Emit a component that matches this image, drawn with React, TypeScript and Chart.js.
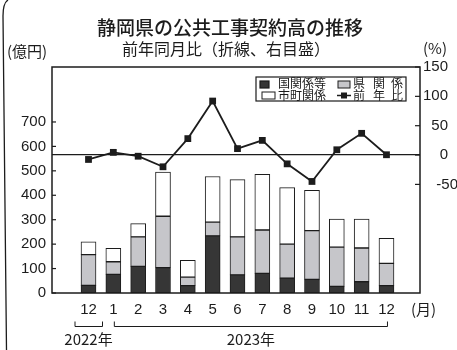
import React, { useEffect, useRef } from "react";
import { Chart, registerables } from "chart.js";

Chart.register(...registerables);

const xLabels = ["12", "1", "2", "3", "4", "5", "6", "7", "8", "9", "10", "11", "12"];
const kuni = [31, 76, 109, 104, 30, 234, 74, 80, 61, 56, 27, 46, 30];
const ken = [126, 52, 121, 210, 35, 56, 156, 178, 139, 199, 161, 138, 91];
const shicho = [52, 55, 54, 181, 69, 187, 234, 228, 231, 165, 115, 119, 103];
const yoy = [-7.5, 4.6, -2, -20, 28, 92, 11, 25, -15, -45, 9, 37, 0.5];
const leftTicks = [0, 100, 200, 300, 400, 500, 600, 700];
const rightTicks = [-50, 0, 50, 100, 150];

const TITLE = "静岡県の公共工事契約高の推移";
const SUBTITLE = "前年同月比（折線、右目盛）";
const LEFT_UNIT = "(億円)";
const RIGHT_UNIT = "(%)";
const MONTH_UNIT = "(月)";
const LEGEND_KUNI = "国関係等";
const LEGEND_KEN = ["県", "関", "係"];
const LEGEND_SHICHO = "市町関係";
const LEGEND_YOY = ["前", "年", "比"];
const YEAR_2022 = "2022年";
const YEAR_2023 = "2023年";

const JP = '"Noto Sans CJK JP"';
const NUM = '"Liberation Sans", Arial, sans-serif';
const INK = "#1c1c1c";
const DARK = "#363636";
const GRAY = "#c6c6ca";

const decor = {
  id: "decor",
  beforeDraw(chart: any) {
    const c = chart.ctx;
    c.save();
    c.fillStyle = "#ffffff";
    c.fillRect(0, 0, chart.width, chart.height);
    c.restore();
  },
  afterDraw(chart: any) {
    const c = chart.ctx;
    const { left, right, top, bottom } = chart.chartArea;
    const ys = chart.scales.y;
    const y2 = chart.scales.y2;
    const xs = chart.scales.x;
    c.save();
    c.strokeStyle = INK;
    c.fillStyle = INK;
    // frame line at left edge
    c.lineWidth = 1.3;
    c.beginPath();
    c.moveTo(8, 0);
    c.quadraticCurveTo(3, 3, 3, 16);
    c.lineTo(6.5, 350);
    c.stroke();
    // plot border
    c.lineWidth = 1.5;
    c.strokeRect(left, top, right - left, bottom - top);
    // inward ticks
    c.lineWidth = 1.2;
    leftTicks.forEach((v) => {
      const y = ys.getPixelForValue(v);
      c.beginPath();
      c.moveTo(left, y);
      c.lineTo(left + 4, y);
      c.stroke();
    });
    rightTicks.forEach((v) => {
      const y = y2.getPixelForValue(v);
      c.beginPath();
      c.moveTo(right - 5, y);
      c.lineTo(right, y);
      c.stroke();
    });
    // right axis labels
    c.font = `15px ${NUM}`;
    c.textBaseline = "middle";
    c.textAlign = "right";
    rightTicks.forEach((v) => {
      const y = y2.getPixelForValue(v);
      c.fillText(String(v), v < 0 ? 458 : 448, y);
    });
    // titles
    c.textAlign = "center";
    c.font = `500 19px ${JP}`;
    c.fillText(TITLE, 230, 28);
    c.font = `16px ${JP}`;
    c.fillText(SUBTITLE, 226, 49);
    c.font = `15px ${JP}`;
    c.textAlign = "left";
    c.fillText(LEFT_UNIT, 7, 51);
    c.fillText(RIGHT_UNIT, 423, 48);
    c.fillText(MONTH_UNIT, 411, 309);
    // legend
    c.lineWidth = 1.2;
    c.strokeRect(256, 77, 150, 24);
    c.font = `12px ${JP}`;
    c.textAlign = "left";
    c.fillStyle = DARK;
    c.fillRect(260, 81, 9, 7);
    c.strokeRect(260, 81, 9, 7);
    c.fillStyle = INK;
    c.fillText(LEGEND_KUNI, 278, 83.5);
    c.fillStyle = GRAY;
    c.fillRect(338, 81, 12, 7);
    c.lineWidth = 1;
    c.strokeRect(338, 81, 12, 7);
    c.fillStyle = "#fff";
    c.fillRect(262, 92, 13, 7);
    c.strokeRect(262, 92, 13, 7);
    c.lineWidth = 1.5;
    c.beginPath();
    c.moveTo(337, 95.5);
    c.lineTo(351, 95.5);
    c.stroke();
    c.fillStyle = INK;
    c.fillRect(341, 92.5, 6, 6);
    c.fillText(LEGEND_SHICHO, 278, 95);
    c.textAlign = "center";
    const cols = [359, 379, 397];
    LEGEND_KEN.forEach((t, i) => c.fillText(t, cols[i], 83.5));
    LEGEND_YOY.forEach((t, i) => c.fillText(t, cols[i], 95));
    // year brackets
    c.lineWidth = 1;
    const bracket = (x0: number, x1: number) => {
      c.beginPath();
      c.moveTo(x0, 321.5);
      c.lineTo(x0, 326.5);
      c.lineTo(x1, 326.5);
      c.lineTo(x1, 321.5);
      c.stroke();
    };
    const p0 = xs.getPixelForValue(0);
    const p1 = xs.getPixelForValue(1);
    const p12 = xs.getPixelForValue(12);
    bracket(p0 - 13.5, p0 + 14);
    bracket(p1 + 1, p12 + 1);
    c.font = `15px ${JP}`;
    c.fillText(YEAR_2022, p0, 339);
    c.fillText(YEAR_2023, (p1 + p12) / 2 + 1, 339);
    c.restore();
  },
};

export default function App() {
  const ref = useRef<HTMLCanvasElement | null>(null);
  useEffect(() => {
    if (!ref.current) return;
    const pts = (arr: number[]) => arr.map((v, i) => ({ x: i, y: v }));
    const barCommon = {
      type: "bar" as const,
      yAxisID: "y",
      borderColor: INK,
      borderWidth: 1,
      borderSkipped: false,
      barThickness: 15,
      order: 1,
    };
    const chart = new Chart(ref.current, {
      type: "bar",
      data: {
        datasets: [
          { ...barCommon, label: LEGEND_KUNI, data: pts(kuni), backgroundColor: DARK },
          { ...barCommon, label: "県関係", data: pts(ken), backgroundColor: GRAY },
          { ...barCommon, label: LEGEND_SHICHO, data: pts(shicho), backgroundColor: "#ffffff" },
          {
            type: "line",
            label: "前年比",
            yAxisID: "y2",
            data: pts(yoy),
            borderColor: INK,
            borderWidth: 1.8,
            pointStyle: "rect",
            pointRadius: 4.8,
            pointBackgroundColor: INK,
            pointBorderColor: INK,
            pointBorderWidth: 0,
            tension: 0,
            order: 0,
          } as any,
        ],
      },
      options: {
        responsive: false,
        devicePixelRatio: 1,
        animation: false,
        layout: { padding: { top: 67, left: 0, right: 0, bottom: 0 } },
        plugins: { legend: { display: false }, tooltip: { enabled: false }, title: { display: false } },
        scales: {
          x: {
            type: "linear",
            stacked: true,
            min: -0.9,
            max: 12.78,
            grid: { display: false, drawTicks: false },
            border: { display: false },
            afterBuildTicks: (s: any) => {
              s.ticks = xLabels.map((_, i) => ({ value: i }));
            },
            afterFit: (s: any) => {
              s.height = 57;
            },
            ticks: {
              autoSkip: false,
              maxRotation: 0,
              padding: 8,
              color: INK,
              font: { size: 15, family: NUM },
              callback: (v: any) => xLabels[v] ?? "",
            },
          },
          y: {
            position: "left",
            stacked: true,
            min: 0,
            max: 925,
            grid: { display: false, drawTicks: false },
            border: { display: false },
            afterBuildTicks: (s: any) => {
              s.ticks = leftTicks.map((v) => ({ value: v }));
            },
            afterFit: (s: any) => {
              s.width = 52;
            },
            ticks: { padding: 6, color: INK, font: { size: 15, family: NUM } },
          },
          y2: {
            position: "right",
            min: -235,
            max: 150,
            border: { display: false },
            grid: {
              drawTicks: false,
              color: (ctx: any) => (ctx.tick && ctx.tick.value === 0 ? INK : "rgba(0,0,0,0)"),
              lineWidth: 1.2,
            },
            afterBuildTicks: (s: any) => {
              s.ticks = rightTicks.map((v) => ({ value: v }));
            },
            afterFit: (s: any) => {
              s.width = 37;
            },
            ticks: { display: false },
          },
        },
      } as any,
      plugins: [decor],
    });
    return () => chart.destroy();
  }, []);
  return (
    <div style={{ position: "absolute", left: 0, top: 0, width: 457, height: 350, background: "#fff" }}>
      <canvas ref={ref} width={457} height={350} style={{ display: "block", width: 457, height: 350 }} />
    </div>
  );
}
